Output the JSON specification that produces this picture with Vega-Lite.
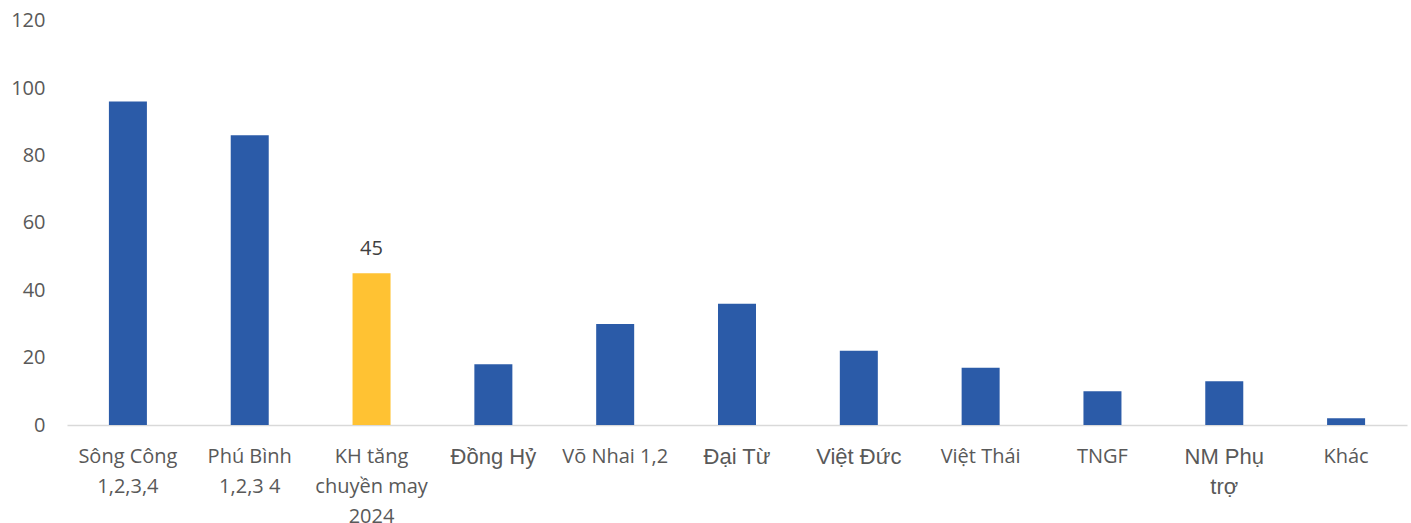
{
  "$schema": "https://vega.github.io/schema/vega-lite/v6.json",
  "width": 1340,
  "height": 404.4,
  "autosize": {"type": "none"},
  "padding": {"left": 67, "top": 20.6, "right": 4, "bottom": 98},
  "background": "white",
  "config": {"view": {"stroke": null}},
  "data": {
    "values": [
      {"name": "Sông Công|1,2,3,4", "value": 96, "highlight": "no"},
      {"name": "Phú Bình|1,2,3 4", "value": 86, "highlight": "no"},
      {"name": "KH tăng|chuyền may|2024", "value": 45, "highlight": "yes"},
      {"name": "Đồng Hỷ", "value": 18, "highlight": "no"},
      {"name": "Võ Nhai 1,2", "value": 30, "highlight": "no"},
      {"name": "Đại Từ", "value": 36, "highlight": "no"},
      {"name": "Việt Đức", "value": 22, "highlight": "no"},
      {"name": "Việt Thái", "value": 17, "highlight": "no"},
      {"name": "TNGF", "value": 10, "highlight": "no"},
      {"name": "NM Phụ|trợ", "value": 13, "highlight": "no"},
      {"name": "Khác", "value": 2, "highlight": "no"}
    ]
  },
  "encoding": {
    "x": {
      "field": "name",
      "type": "nominal",
      "sort": null,
      "scale": {"paddingInner": 0.688, "paddingOuter": 0.344},
      "axis": {
        "title": null,
        "labelAngle": 0,
        "labelExpr": "split(datum.value, '|')",
        "labelFont": {"condition": {"test": "indexof(['Đồng Hỷ','Đại Từ','Việt Đức','NM Phụ|trợ'], datum.value) >= 0", "value": "Liberation Sans"}, "value": "Open Sans"},
        "labelFontSize": {"condition": {"test": "indexof(['Đồng Hỷ','Đại Từ','Việt Đức','NM Phụ|trợ'], datum.value) >= 0", "value": 22}, "value": 20},
        "labelColor": "#595959",
        "labelLineHeight": 30,
        "labelPadding": 31,
        "labelBaseline": "middle",
        "ticks": false,
        "domainColor": "#D9D9D9",
        "domainWidth": 1.5,
        "grid": false
      }
    },
    "y": {
      "field": "value",
      "type": "quantitative",
      "scale": {"domain": [0, 120]},
      "axis": {
        "title": null,
        "values": [0, 20, 40, 60, 80, 100, 120],
        "labelFont": "Open Sans",
        "labelFontSize": 20,
        "labelColor": "#595959",
        "labelPadding": 22,
        "domain": false,
        "ticks": false,
        "grid": false
      }
    }
  },
  "layer": [
    {
      "mark": {"type": "bar"},
      "encoding": {
        "color": {
          "field": "highlight",
          "type": "nominal",
          "scale": {"domain": ["no", "yes"], "range": ["#2B5BA8", "#FFC233"]},
          "legend": null
        }
      }
    },
    {
      "transform": [{"filter": "datum.highlight == 'yes'"}],
      "mark": {"type": "text", "dy": -24, "font": "Open Sans", "fontSize": 20, "color": "#404040"},
      "encoding": {"text": {"field": "value", "type": "quantitative"}}
    }
  ]
}
